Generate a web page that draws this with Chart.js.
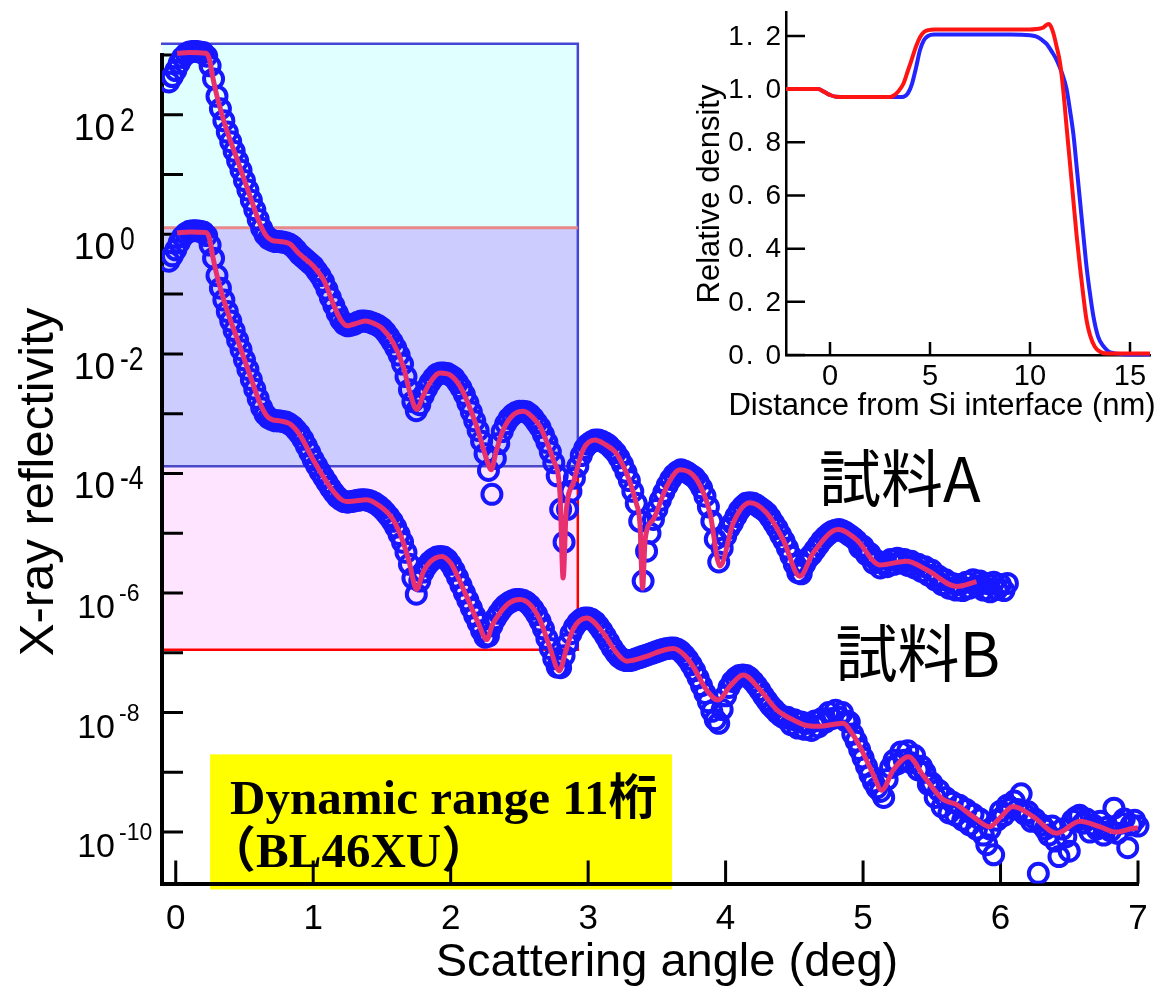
<!DOCTYPE html>
<html>
<head>
<meta charset="utf-8">
<script src="https://cdn.jsdelivr.net/npm/chart.js@4.4.1/dist/chart.umd.min.js"></script>
<style>
  html, body { margin: 0; padding: 0; background: #fff; overflow: hidden; }
  #wrap { position: relative; width: 1173px; height: 994px; background: #fff; }
  #main { position: absolute; left: 0; top: 0; }
  #inset { position: absolute; left: 680px; top: 0; }
</style>
</head>
<body>
<div id="wrap">
  <canvas id="main" width="1173" height="994"></canvas>
  <canvas id="inset" width="493" height="430"></canvas>
</div>
<script>
// measured reflectivity, log10 values, one point every 0.025 deg from -0.05 deg
const angleStart = -0.05;
const angleStep = 0.025;

const reflA = [
  2.55, 2.64, 2.74, 2.86, 2.96, 3.02, 3.05, 3.06, 3.06, 3.05,
  3.04, 2.98, 2.82, 2.60, 2.31, 2.10, 1.90, 1.71, 1.55, 1.39,
  1.23, 1.07, 0.90, 0.74, 0.57, 0.41, 0.25, 0.10, -0.01, -0.07,
  -0.10, -0.12, -0.12, -0.13, -0.14, -0.16, -0.20, -0.26, -0.33, -0.38,
  -0.43, -0.48, -0.53, -0.61, -0.69, -0.79, -0.92, -1.06, -1.19, -1.32,
  -1.43, -1.50, -1.53, -1.52, -1.50, -1.47, -1.45, -1.45, -1.46, -1.48,
  -1.50, -1.53, -1.57, -1.63, -1.71, -1.80, -1.90, -2.02, -2.17, -2.38,
  -2.60, -2.80, -2.95, -2.85, -2.70, -2.58, -2.48, -2.40, -2.34, -2.32,
  -2.32, -2.33, -2.36, -2.40, -2.48, -2.57, -2.68, -2.82, -2.97, -3.12,
  -3.28, -3.46, -3.67, -3.95, -4.35, -3.75, -3.50, -3.30, -3.17, -3.08,
  -3.02, -2.98, -2.96, -2.96, -2.97, -3.01, -3.07, -3.15, -3.23, -3.35,
  -3.48, -3.64, -3.82, -4.04, -4.60, -5.15, -4.60, -4.30, -4.08, -3.88,
  -3.70, -3.58, -3.51, -3.47, -3.44, -3.44, -3.46, -3.49, -3.53, -3.59,
  -3.65, -3.74, -3.85, -3.98, -4.12, -4.30, -4.50, -4.80, -5.80, -5.30,
  -5.00, -4.77, -4.60, -4.45, -4.32, -4.20, -4.10, -4.02, -3.97, -3.94,
  -3.96, -3.99, -4.03, -4.07, -4.14, -4.24, -4.38, -4.56, -4.80, -5.10,
  -5.48, -5.25, -5.05, -4.92, -4.83, -4.72, -4.62, -4.55, -4.50, -4.49,
  -4.50, -4.53, -4.57, -4.61, -4.66, -4.74, -4.83, -4.92, -5.03, -5.13,
  -5.25, -5.38, -5.52, -5.66, -5.68, -5.52, -5.42, -5.36, -5.28, -5.20,
  -5.12, -5.06, -5.01, -4.97, -4.95, -4.94, -4.96, -4.99, -5.03, -5.07,
  -5.12, -5.24, -5.22, -5.36, -5.34, -5.50, -5.46, -5.58, -5.50, -5.56,
  -5.44, -5.52, -5.42, -5.50, -5.44, -5.54, -5.47, -5.58, -5.52, -5.64,
  -5.56, -5.70, -5.62, -5.78, -5.72, -5.86, -5.78, -5.92, -5.84, -5.95,
  -5.86, -5.96, -5.82, -5.92, -5.78, -5.88, -5.80, -5.95, -5.84, -5.98,
  -5.82, -5.94, -5.86, -5.96, -5.84
];

const reflB = [
  -0.45, -0.36, -0.26, -0.14, -0.04, 0.02, 0.05, 0.06, 0.06, 0.05,
  0.04, -0.02, -0.18, -0.40, -0.69, -0.90, -1.10, -1.29, -1.45, -1.61,
  -1.77, -1.93, -2.10, -2.26, -2.43, -2.59, -2.75, -2.90, -3.01, -3.07,
  -3.10, -3.12, -3.12, -3.13, -3.14, -3.17, -3.21, -3.27, -3.34, -3.43,
  -3.54, -3.65, -3.77, -3.87, -3.97, -4.06, -4.15, -4.24, -4.32, -4.39,
  -4.44, -4.47, -4.48, -4.47, -4.46, -4.45, -4.44, -4.44, -4.45, -4.47,
  -4.50, -4.54, -4.59, -4.65, -4.72, -4.80, -4.90, -5.02, -5.15, -5.32,
  -5.52, -5.75, -6.02, -5.80, -5.65, -5.55, -5.48, -5.43, -5.40, -5.39,
  -5.40, -5.44, -5.52, -5.62, -5.74, -5.87, -6.00, -6.12, -6.25, -6.38,
  -6.50, -6.63, -6.74, -6.72, -6.55, -6.43, -6.34, -6.26, -6.20, -6.16,
  -6.13, -6.11, -6.11, -6.12, -6.15, -6.20, -6.27, -6.36, -6.47, -6.60,
  -6.76, -6.93, -7.10, -7.24, -7.25, -7.05, -6.85, -6.68, -6.57, -6.49,
  -6.44, -6.42, -6.42, -6.44, -6.48, -6.55, -6.63, -6.72, -6.82, -6.92,
  -7.00, -7.07, -7.11, -7.13, -7.13, -7.12, -7.10, -7.08, -7.06, -7.04,
  -7.02, -7.00, -6.98, -6.96, -6.94, -6.93, -6.92, -6.92, -6.94, -6.98,
  -7.04, -7.11, -7.20, -7.30, -7.42, -7.55, -7.68, -7.82, -7.98, -8.12,
  -8.18, -7.95, -7.72, -7.58, -7.48, -7.42, -7.38, -7.37, -7.38, -7.42,
  -7.48, -7.55, -7.63, -7.72, -7.80, -7.88, -7.94, -8.00, -8.05, -8.09,
  -8.08, -8.20, -8.12, -8.26, -8.16, -8.28, -8.18, -8.30, -8.14, -8.24,
  -8.10, -8.16, -8.00, -8.10, -7.96, -8.08, -8.00, -8.14, -8.16, -8.36,
  -8.48, -8.62, -8.76, -8.90, -9.04, -9.16, -9.26, -9.32, -9.42, -9.12,
  -8.92, -8.80, -8.86, -8.66, -8.80, -8.64, -8.84, -8.72, -8.96, -8.90,
  -9.00, -9.20, -9.18, -9.42, -9.30, -9.58, -9.42, -9.68, -9.50, -9.72,
  -9.55, -9.80, -9.62, -9.88, -9.70, -9.95, -9.78, -10.05, -10.21, -9.95,
  -10.38, -9.80, -9.65, -9.72, -9.55, -9.60, -9.48, -9.62, -9.36, -9.70,
  -9.66, -9.82, -9.78, -10.69, -9.88, -9.95, -10.05, -9.90, -10.15, -10.41,
  -9.95, -10.08, -10.32, -9.80, -9.75, -9.72, -9.85, -9.78, -10.00, -9.88,
  -9.95, -9.82, -10.05, -9.92, -9.98, -9.60, -10.02, -9.85, -9.78, -10.26,
  -9.88, -9.80, -9.90
];

// fitted curves (angle in deg, log10 reflectivity)
const fitAngleA = [0.01, 0.10, 0.22, 0.245, 0.27, 0.30, 0.37, 0.455, 0.54, 0.61, 0.66, 0.70, 0.76, 0.83, 0.90,
  1.00, 1.08, 1.15, 1.20, 1.25, 1.30, 1.38, 1.45, 1.50, 1.583, 1.655, 1.704, 1.753, 1.80, 1.85, 1.922,
  2.00, 2.07, 2.116, 2.189, 2.262, 2.295, 2.33, 2.38, 2.455, 2.53, 2.60, 2.649, 2.70, 2.746, 2.795, 2.818,
  2.84, 2.892, 2.964, 3.05, 3.12, 3.20, 3.25, 3.30, 3.35, 3.377, 3.396, 3.415, 3.474, 3.571, 3.668,
  3.789, 3.886, 3.959, 4.055, 4.177, 4.298, 4.419, 4.54, 4.637, 4.819, 4.953, 5.122, 5.316, 5.462, 5.68, 5.825];
const fitA = [3.03, 3.04, 3.03, 2.93, 2.62, 2.31, 1.75, 1.20, 0.64, 0.19, -0.03, -0.10, -0.12, -0.16, -0.33,
  -0.53, -0.78, -1.19, -1.43, -1.53, -1.50, -1.45, -1.50, -1.57, -1.82, -2.21, -2.65, -2.93, -2.70, -2.48, -2.32,
  -2.36, -2.55, -2.77, -3.21, -3.77, -3.94, -3.64, -3.28, -3.02, -2.96, -3.07, -3.21, -3.48, -3.77, -4.33, -5.75,
  -4.65, -4.16, -3.60, -3.44, -3.51, -3.65, -3.85, -4.12, -4.50, -4.85, -5.92, -5.10, -4.77, -4.22, -3.94,
  -4.10, -4.66, -5.55, -4.83, -4.49, -4.66, -5.11, -5.72, -5.33, -4.94, -5.11, -5.53, -5.47, -5.61, -5.89, -5.81];

const fitAngleB = [0.01, 0.10, 0.22, 0.245, 0.27, 0.30, 0.37, 0.455, 0.54, 0.61, 0.66, 0.70, 0.76, 0.83, 0.904,
  1.00, 1.12, 1.20, 1.243, 1.30, 1.389, 1.486, 1.58, 1.65, 1.70, 1.752, 1.80, 1.85, 1.935,
  2.00, 2.05, 2.116, 2.20, 2.262, 2.30, 2.359, 2.43, 2.504, 2.58, 2.649, 2.72, 2.79, 2.84, 2.89, 2.99,
  3.11, 3.20, 3.28, 3.425, 3.53, 3.62, 3.70, 3.764, 3.86, 3.946, 4.031, 4.128, 4.25, 4.37, 4.49, 4.60,
  4.686, 4.78, 4.855, 4.92, 4.977, 5.073, 5.135, 5.22, 5.33, 5.437, 5.58, 5.68, 5.80, 5.92,
  6.00, 6.09, 6.237, 6.41, 6.577, 6.72, 6.84, 6.96, 7.00];
const fitB = [0.025, 0.04, 0.03, -0.07, -0.38, -0.69, -1.25, -1.80, -2.36, -2.81, -3.03, -3.10, -3.12, -3.17, -3.36,
  -3.77, -4.22, -4.43, -4.47, -4.46, -4.44, -4.55, -4.77, -5.12, -5.50, -5.94, -5.65, -5.48, -5.39,
  -5.50, -5.72, -6.06, -6.50, -6.78, -6.55, -6.33, -6.16, -6.11, -6.20, -6.45, -6.90, -7.30, -6.95, -6.61, -6.42,
  -6.67, -6.98, -7.14, -7.06, -6.97, -6.93, -7.04, -7.23, -7.62, -7.79, -7.56, -7.37, -7.62, -7.95, -8.12, -8.22,
  -8.23, -8.20, -8.18, -8.35, -8.57, -9.03, -9.30, -8.96, -8.74, -9.05, -9.45, -9.54, -9.74, -9.91,
  -9.75, -9.57, -9.74, -10.02, -9.82, -9.91, -10.00, -9.94, -9.93];

const angleTicks = [0, 1, 2, 3, 4, 5, 6, 7];
const decadeTicks = [-10, -9, -8, -7, -6, -5, -4, -3, -2, -1, 0, 1, 2, 3];
const decadeLabels = [2, 0, -2, -4, -6, -8, -10];

// inset: density profiles
const depthBlue = [-2.2, -1.0, -0.6, -0.3, 0.0, 0.3, 0.8, 2.0, 3.0, 3.5, 3.7, 3.9, 4.1, 4.3, 4.5, 4.7, 4.9, 5.2, 7.0, 9.0,
  10.0, 10.3, 10.6, 10.83, 11.1, 11.33, 11.6, 11.83, 12.0, 12.17, 12.33, 12.5, 12.67, 12.83, 13.0, 13.17, 13.4, 13.67,
  13.9, 14.17, 14.6, 15.0, 16.0];
const densityBlue = [1.0, 1.0, 1.0, 0.99, 0.978, 0.971, 0.97, 0.97, 0.97, 0.97, 0.972, 0.985, 1.02, 1.08, 1.147, 1.185, 1.2, 1.205, 1.205, 1.205,
  1.203, 1.198, 1.185, 1.17, 1.14, 1.11, 1.06, 1.0, 0.92, 0.83, 0.71, 0.58, 0.45, 0.33, 0.23, 0.145, 0.07, 0.033,
  0.015, 0.007, 0.003, 0.002, 0.002];
const depthRed = [-2.2, -1.0, -0.6, -0.3, 0.0, 0.3, 0.8, 2.0, 3.0, 3.17, 3.4, 3.67, 3.9, 4.08, 4.3, 4.5, 4.7, 4.92, 5.2, 7.0, 9.0,
  10.0, 10.33, 10.5, 10.67, 10.85, 10.95, 11.05, 11.17, 11.33, 11.5, 11.67, 11.83, 12.0, 12.17, 12.33, 12.5, 12.67, 12.83,
  13.0, 13.25, 13.5, 13.83, 14.5, 16.0];
const densityRed = [1.0, 1.0, 1.0, 0.99, 0.978, 0.971, 0.97, 0.97, 0.97, 0.975, 0.99, 1.02, 1.07, 1.11, 1.16, 1.195, 1.215, 1.222, 1.224, 1.224, 1.224,
  1.224, 1.226, 1.228, 1.232, 1.243, 1.245, 1.235, 1.21, 1.16, 1.1, 0.99, 0.857, 0.72, 0.58, 0.45, 0.33, 0.22, 0.13,
  0.075, 0.03, 0.012, 0.006, 0.006, 0.006];
const depthTicks = [0, 5, 10, 15];
const densityTicks = [0, 0.2, 0.4, 0.6, 0.8, 1.0, 1.2];

const sans = '"Liberation Sans", Arial, sans-serif';
const dotColor = '#1616ff';
const fitColor = '#e8306e';

function gridPoints(logs) {
  return logs.map((v, i) => ({ x: +(angleStart + i * angleStep).toFixed(3), y: Math.pow(10, v) }));
}
function logPoints(xs, logs) {
  return xs.map((x, i) => ({ x: x, y: Math.pow(10, logs[i]) }));
}
function linPoints(xs, ys) {
  return xs.map((x, i) => ({ x: x, y: ys[i] }));
}

// shaded ranges behind the curves, in axis units (deg, log10)
const zoneLeft = -0.1, zoneRight = 2.925;
const zoneEdges = [3.19, 0.11, -3.88, -6.95];
const noteBox = { left: 0.25, right: 3.61, top: -8.70, bottom: -10.96 };

const mainDecor = {
  id: 'mainDecor',
  beforeDraw(chart) {
    const { ctx, scales: { x, y } } = chart;
    const py = v => y.getPixelForValue(Math.pow(10, v));
    const x0 = x.getPixelForValue(zoneLeft), x1 = x.getPixelForValue(zoneRight);
    const [e0, e1, e2, e3] = zoneEdges.map(py);
    ctx.save();
    ctx.fillStyle = '#e0ffff'; ctx.fillRect(x0, e0, x1 - x0, e1 - e0);
    ctx.fillStyle = '#ccccff'; ctx.fillRect(x0, e1, x1 - x0, e2 - e1);
    ctx.fillStyle = '#ffe4ff'; ctx.fillRect(x0, e2, x1 - x0, e3 - e2);
    ctx.lineWidth = 2.5;
    ctx.strokeStyle = '#4646d6';
    ctx.beginPath(); ctx.moveTo(x0 - 1, e0); ctx.lineTo(x1, e0); ctx.lineTo(x1, e2); ctx.stroke();
    ctx.strokeStyle = '#4848c8';
    ctx.beginPath(); ctx.moveTo(x0, e2); ctx.lineTo(x1, e2); ctx.stroke();
    ctx.strokeStyle = '#e88888'; ctx.lineWidth = 3;
    ctx.beginPath(); ctx.moveTo(x0, e1); ctx.lineTo(x1, e1); ctx.stroke();
    ctx.strokeStyle = '#ff0000'; ctx.lineWidth = 2.5;
    ctx.beginPath(); ctx.moveTo(x1, e2); ctx.lineTo(x1, e3); ctx.lineTo(x0, e3); ctx.stroke();

    // yellow note
    const nx0 = x.getPixelForValue(noteBox.left), nx1 = x.getPixelForValue(noteBox.right);
    const ny0 = py(noteBox.top), ny1 = py(noteBox.bottom);
    ctx.fillStyle = '#ffff00';
    ctx.fillRect(nx0, ny0, nx1 - nx0, ny1 - ny0);
    ctx.fillStyle = '#000';
    ctx.textAlign = 'left'; ctx.textBaseline = 'alphabetic';
    ctx.font = 'bold 49px "Liberation Serif", "Noto Sans CJK JP", serif';
    ctx.fillText('Dynamic range 11桁', nx0 + 20, ny0 + 60);
    ctx.fillText('（BL46XU）', nx0 - 3, ny0 + 113);
    ctx.restore();
  },
  beforeDatasetsDraw(chart) {
    const { ctx, chartArea: a, scales: { x, y } } = chart;
    ctx.save();
    ctx.strokeStyle = '#000'; ctx.lineWidth = 3;
    ctx.beginPath();
    for (const e of decadeTicks) {
      const p = y.getPixelForValue(Math.pow(10, e));
      ctx.moveTo(a.left, p); ctx.lineTo(a.left + 21, p);
    }
    for (const t of angleTicks) {
      const p = x.getPixelForValue(t);
      ctx.moveTo(p, a.bottom); ctx.lineTo(p, a.bottom - 23);
    }
    ctx.stroke();

    ctx.fillStyle = '#000';
    ctx.textBaseline = 'alphabetic';
    for (const e of decadeLabels) {
      const p = y.getPixelForValue(Math.pow(10, e));
      const big = e >= -4;
      ctx.textAlign = 'right';
      ctx.font = (big ? 37 : 34) + 'px ' + sans;
      ctx.fillText('10', 115, p + 25);
      ctx.textAlign = 'left';
      if (big) {
        ctx.save();
        ctx.translate(120, p + 16);
        ctx.scale(0.78, 1);
        ctx.font = '34px ' + sans;
        ctx.fillText(String(e), 0, 0);
        ctx.restore();
      } else {
        ctx.font = '23px ' + sans;
        ctx.fillText(String(e), 119, p + 8);
      }
    }

    // axis titles
    ctx.font = '47px ' + sans;
    ctx.textAlign = 'center';
    ctx.fillText('Scattering angle (deg)', 667, 976);
    ctx.save();
    ctx.translate(53, 482);
    ctx.rotate(-Math.PI / 2);
    ctx.font = '49px ' + sans;
    ctx.fillText('X-ray reflectivity', 0, 0);
    ctx.restore();
    ctx.restore();
  },
  afterDraw(chart) {
    const { ctx, scales: { x, y } } = chart;
    ctx.save();
    ctx.fillStyle = '#000';
    ctx.textAlign = 'left'; ctx.textBaseline = 'alphabetic';
    ctx.font = '62px "Noto Sans CJK JP", sans-serif';
    ctx.fillText('試料A', x.getPixelForValue(4.68), y.getPixelForValue(Math.pow(10, -4.47)));
    ctx.fillText('試料B', x.getPixelForValue(4.80), y.getPixelForValue(Math.pow(10, -7.40)));
    ctx.restore();
  }
};

const dotStyle = { pointRadius: 9.5, pointBorderWidth: 4, borderColor: dotColor, backgroundColor: 'rgba(0,0,0,0)' };
const fitStyle = { type: 'line', borderColor: fitColor, borderWidth: 5, pointRadius: 0, cubicInterpolationMode: 'monotone', fill: false };
const plotClip = { left: 0, top: 15, right: 15, bottom: 0 };

new Chart(document.getElementById('main'), {
  type: 'scatter',
  data: {
    datasets: [
      Object.assign({ label: '試料A fit', data: logPoints(fitAngleA, fitA), order: 0, clip: plotClip }, fitStyle),
      Object.assign({ label: '試料B fit', data: logPoints(fitAngleB, fitB), order: 0, clip: plotClip }, fitStyle),
      Object.assign({ label: '試料A', data: gridPoints(reflA), order: 1, clip: plotClip }, dotStyle),
      Object.assign({ label: '試料B', data: gridPoints(reflB), order: 1, clip: plotClip }, dotStyle)
    ]
  },
  options: {
    responsive: false,
    animation: false,
    layout: { padding: { top: 55, right: 35, left: 0, bottom: 0 } },
    plugins: { legend: { display: false }, tooltip: { enabled: false } },
    scales: {
      x: {
        type: 'linear', min: -0.1, max: 7,
        afterBuildTicks: s => { s.ticks = angleTicks.map(v => ({ value: v })); },
        afterFit: s => { s.height = 110.5; },
        grid: { display: false, drawTicks: false },
        border: { color: '#000', width: 4 },
        ticks: { color: '#000', font: { family: sans, size: 35 }, padding: 15, maxRotation: 0,
          callback: v => String(v) }
      },
      y: {
        type: 'logarithmic', min: Math.pow(10, -10.86), max: 1000,
        afterBuildTicks: s => { s.ticks = decadeTicks.map(e => ({ value: Math.pow(10, e) })); },
        afterFit: s => { s.width = 162; },
        grid: { display: false, drawTicks: false },
        border: { color: '#000', width: 4 },
        ticks: { display: false }
      }
    }
  },
  plugins: [mainDecor]
});

// inset chart
const insetDecor = {
  id: 'insetDecor',
  beforeDatasetsDraw(chart) {
    const { ctx, chartArea: a, scales: { x, y } } = chart;
    ctx.save();
    ctx.strokeStyle = '#000'; ctx.lineWidth = 2.5;
    ctx.beginPath();
    for (const v of densityTicks) {
      const p = y.getPixelForValue(v);
      ctx.moveTo(a.left, p); ctx.lineTo(a.left + 19, p);
    }
    for (const v of depthTicks) {
      const p = x.getPixelForValue(v);
      ctx.moveTo(p, a.bottom); ctx.lineTo(p, a.bottom - 13);
    }
    ctx.stroke();
    ctx.fillStyle = '#000';
    ctx.font = '28px ' + sans;
    ctx.textAlign = 'right'; ctx.textBaseline = 'middle';
    ctx.letterSpacing = '2px';
    for (const v of densityTicks) {
      ctx.fillText(v.toFixed(1).replace('.', '. '), a.left - 3, y.getPixelForValue(v) + 1);
    }
    ctx.letterSpacing = '0px';
    ctx.textAlign = 'center';
    ctx.font = '29px ' + sans;
    for (const v of depthTicks) {
      ctx.fillText(String(v), x.getPixelForValue(v), a.bottom + 22);
    }
    ctx.textBaseline = 'alphabetic';
    ctx.font = '31px ' + sans;
    ctx.fillText('Distance from Si interface (nm)', 262, 415);
    ctx.save();
    ctx.translate(39, 194);
    ctx.rotate(-Math.PI / 2);
    ctx.fillText('Relative density', 0, 0);
    ctx.restore();
    ctx.restore();
  }
};

new Chart(document.getElementById('inset'), {
  type: 'scatter',
  data: {
    datasets: [
      { label: 'red', type: 'line', data: linPoints(depthRed, densityRed), borderColor: '#ff1414', borderWidth: 4,
        pointRadius: 0, cubicInterpolationMode: 'monotone', fill: false, order: 0, clip: false },
      { label: 'blue', type: 'line', data: linPoints(depthBlue, densityBlue), borderColor: '#2424ff', borderWidth: 4,
        pointRadius: 0, cubicInterpolationMode: 'monotone', fill: false, order: 1, clip: false }
    ]
  },
  options: {
    responsive: false,
    animation: false,
    layout: { padding: { top: 12, right: 23, left: 0, bottom: 0 } },
    plugins: { legend: { display: false }, tooltip: { enabled: false } },
    scales: {
      x: {
        type: 'linear', min: -2.2, max: 16,
        afterFit: s => { s.height = 75; },
        grid: { display: false, drawTicks: false },
        border: { color: '#000', width: 2.5 },
        ticks: { display: false }
      },
      y: {
        type: 'linear', min: 0, max: 1.29,
        afterFit: s => { s.width = 106; },
        grid: { display: false, drawTicks: false },
        border: { color: '#000', width: 2.5 },
        ticks: { display: false }
      }
    }
  },
  plugins: [insetDecor]
});
</script>
</body>
</html>
